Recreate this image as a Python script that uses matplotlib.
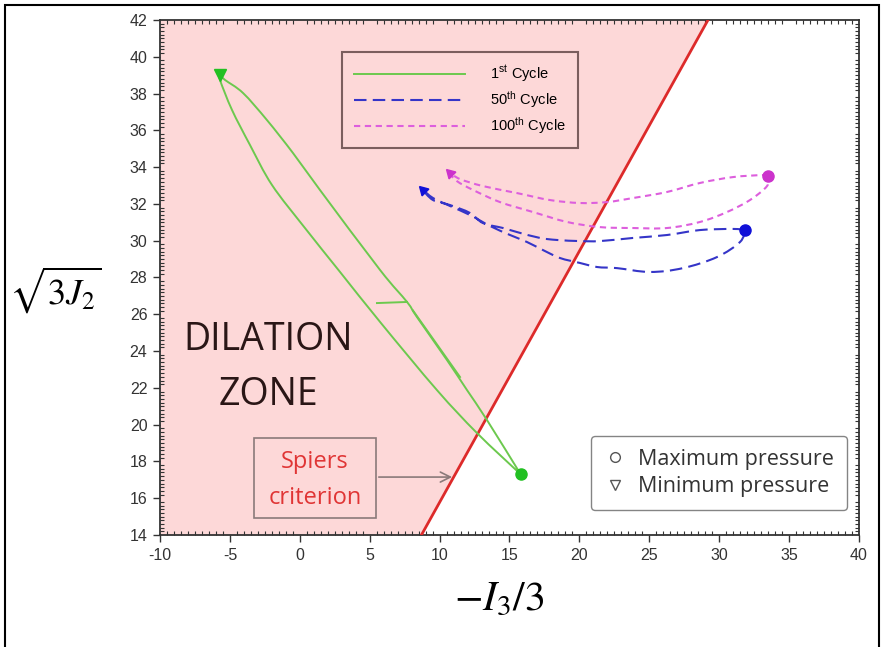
import numpy as np
import matplotlib.pyplot as plt
from matplotlib.patches import Rectangle, PathPatch
from matplotlib.path import Path
from matplotlib.lines import Line2D
from matplotlib.ticker import MultipleLocator

plt.rcParams['mathtext.fontset'] = 'stix'
plt.rcParams['axes.unicode_minus'] = False

# Spiers criterion line
spiers_x = [8.7, 29.2]
spiers_y = [14, 42]

# 1st cycle loop (max pressure -> min pressure -> max pressure)
c1_x = [15.8, 12.68, 9.81, 5.81, 2.88, 0.37, -1.99, -3.56, -4.85, -5.71, -5.7,
        -5.35, -4.06, -2.35, -0.49, 1.44, 5.74, 7.67, 8.38, 10.53, 11.96, 13.39, 15.8]
c1_y = [17.3, 19.54, 21.88, 25.52, 28.30, 30.69, 33.03, 35.20, 37.11, 38.74, 39.0,
        38.74, 38.03, 36.56, 34.77, 32.76, 28.41, 26.67, 25.85, 23.51, 21.88, 20.25, 17.3]
# small spur and doubled stroke on the unloading branch
spur_x = [5.52, 7.67]
spur_y = [26.61, 26.67]
strand_x = [8.1, 11.46]
strand_y = [26.2, 22.59]

# 50th cycle
c50_x = [31.85, 30.99, 28.63, 26.27, 23.83, 21.47, 20.04, 18.40, 17.18, 15.54,
         14.54, 13.10, 12.17, 10.74, 9.53, 8.81,
         9.53, 10.74, 12.17, 13.61, 15.04, 16.25, 17.40, 18.61, 20.04, 21.26,
         22.69, 25.05, 27.41, 29.84, 31.49, 31.85]
c50_y = [30.58, 30.64, 30.58, 30.31, 30.15, 29.98, 29.98, 30.04, 30.15, 30.47,
         30.69, 30.96, 31.51, 31.94, 32.21, 32.76,
         32.32, 31.89, 31.40, 30.80, 30.31, 29.93, 29.49, 29.06, 28.79, 28.57,
         28.51, 28.30, 28.51, 29.11, 29.93, 30.58]

# 100th cycle
c100_x = [33.49, 33.13, 30.99, 28.63, 26.27, 23.83, 21.97, 20.04, 17.90, 15.54,
          13.10, 11.46, 10.74,
          11.24, 12.39, 14.32, 16.68, 19.11, 21.47, 23.83, 26.27, 28.63, 30.56,
          32.20, 33.42, 33.49]
c100_y = [33.52, 33.57, 33.46, 33.14, 32.65, 32.32, 32.10, 32.05, 32.21, 32.59,
          32.97, 33.35, 33.68,
          33.24, 32.76, 32.10, 31.56, 31.02, 30.74, 30.69, 30.69, 31.02, 31.56,
          32.21, 32.97, 33.52]

# max / min pressure points: 1st, 50th, 100th
max_x = [15.8, 31.85, 33.49]
max_y = [17.3, 30.58, 33.52]
min_x = [-5.7, 8.81, 10.74]
min_y = [39.0, 32.76, 33.68]

green, blue, pink = '#6cc94e', '#3535c8', '#dd5fdd'


def smooth_path(xs, ys):
    # smoothed line through the points (cubic Bezier, Catmull-Rom tangents)
    p = np.column_stack([xs, ys]).astype(float)
    verts, codes = [p[0]], [Path.MOVETO]
    n = len(p)
    for i in range(n - 1):
        p0 = p[i - 1] if i > 0 else p[i]
        p3 = p[i + 2] if i + 2 < n else p[i + 1]
        verts += [p[i] + (p[i + 1] - p0) / 6, p[i + 1] - (p3 - p[i]) / 6, p[i + 1]]
        codes += [Path.CURVE4] * 3
    return Path(verts, codes)


fig = plt.figure(figsize=(8.83, 6.47), dpi=100)
ax = fig.add_axes([0.1812, 0.1731, 0.7916, 0.796])

# dilation zone shading
ax.fill_betweenx(spiers_y, -10, spiers_x, color='#fdd8d8', lw=0, zorder=0)
ax.plot(spiers_x, spiers_y, color='#dd2a2a', lw=2, zorder=3)

ax.add_patch(PathPatch(smooth_path(c1_x, c1_y), fill=False, ec=green, lw=1.4, zorder=4))
ax.plot(spur_x, spur_y, color=green, lw=1.4, zorder=4)
ax.plot(strand_x, strand_y, color=green, lw=1.4, zorder=4)
ax.add_patch(PathPatch(smooth_path(c50_x, c50_y), fill=False, ec=blue, lw=1.5,
                       ls=(0, (6, 3)), zorder=4))
ax.add_patch(PathPatch(smooth_path(c100_x, c100_y), fill=False, ec=pink, lw=1.5,
                       ls=(0, (3, 2.2)), zorder=4))

mk_cols = ['#22c022', '#1010d8', '#cc33cc']
mk_min = ['v', (3, 0, 45), (3, 0, 165)]
for i in range(3):
    ax.plot(max_x[i], max_y[i], 'o', ms=8, color=mk_cols[i], mec=mk_cols[i], zorder=5)
    ax.plot(min_x[i], min_y[i], marker=mk_min[i], ms=8, color=mk_cols[i],
            mec=mk_cols[i], ls='none', zorder=5)

ax.set_xlim(-10, 40)
ax.set_ylim(14, 42)
ax.xaxis.set_major_locator(MultipleLocator(5))
ax.xaxis.set_minor_locator(MultipleLocator(0.5))
ax.yaxis.set_major_locator(MultipleLocator(2))
ax.yaxis.set_minor_locator(MultipleLocator(0.2))
ax.tick_params(which='major', direction='out', length=5, width=1, color='#333333',
               labelsize=11.5, labelcolor='#333333', pad=4)
ax.tick_params(which='minor', direction='in', length=3, width=0.8, color='#333333',
               top=True, right=True)
for lab in ax.get_xticklabels() + ax.get_yticklabels():
    lab.set_family('Liberation Sans')
for s in ax.spines.values():
    s.set_color('#333333')
    s.set_linewidth(1.3)

ax.set_xlabel(r'$-I_3\left/3\right.$', fontsize=30)
ax.xaxis.set_label_coords(0.486, -0.083)
ax.set_ylabel(r'$\sqrt{3J_2}$', fontsize=26, rotation=0, va='center')
ax.yaxis.set_label_coords(-0.149, 0.476)

# cycle legend
cyc_handles = [Line2D([], [], color=green, lw=1.4),
               Line2D([], [], color=blue, lw=1.5, dashes=(6, 3)),
               Line2D([], [], color=pink, lw=1.5, dashes=(3, 2.2))]
cyc_labels = [r'1$^{\mathregular{st}}$ Cycle', r'50$^{\mathregular{th}}$ Cycle',
              r'100$^{\mathregular{th}}$ Cycle']
leg1 = ax.legend(cyc_handles, cyc_labels, loc='upper left', bbox_to_anchor=(0.2604, 0.938),
                 borderaxespad=0, handlelength=7.6, handletextpad=1.75, labelspacing=0.35,
                 frameon=True, fancybox=False, borderpad=0.8,
                 prop={'family': 'Liberation Sans', 'size': 10.5})
leg1.get_frame().set_edgecolor('#5a4040')
leg1.get_frame().set_facecolor('none')
leg1.get_frame().set_linewidth(1.5)
ax.add_artist(leg1)

# marker-type legend
mh = [Line2D([], [], marker='o', ls='none', mfc='none', mec='#555555', ms=7),
      Line2D([], [], marker='v', ls='none', mfc='none', mec='#555555', ms=7)]
leg2 = ax.legend(mh, ['Maximum pressure', 'Minimum pressure'], loc='lower right',
                 bbox_to_anchor=(0.983, 0.0485), borderaxespad=0, fancybox=True,
                 handletextpad=0.6, labelspacing=0.3, borderpad=0.6, handlelength=1.0,
                 prop={'family': 'Open Sans', 'size': 15.5})
leg2.get_frame().set_edgecolor('#666666')
leg2.get_frame().set_linewidth(1)
for t in leg2.get_texts():
    t.set_color('#333333')

ax.text(-2.27, 24.6, 'DILATION', fontsize=27, family='Open Sans', color='#2a1616',
        ha='center', va='center')
ax.text(-2.27, 21.6, 'ZONE', fontsize=27, family='Open Sans', color='#2a1616',
        ha='center', va='center')

ax.add_patch(Rectangle((-3.28, 14.92), 8.73, 4.35, fill=False, ec='#8a7a7a', lw=1.2, zorder=6))
ax.text(1.08, 17.95, 'Spiers', fontsize=17, family='Open Sans', color='#e03535',
        ha='center', va='center', zorder=6)
ax.text(1.08, 16.0, 'criterion', fontsize=17, family='Open Sans', color='#e03535',
        ha='center', va='center', zorder=6)
ax.annotate('', xy=(11.1, 17.15), xytext=(5.45, 17.15),
            arrowprops=dict(arrowstyle='->', color='#8a7a7a', lw=1.2,
                            mutation_scale=18), zorder=6)

# outer frame
fig.patches.append(Rectangle((5 / 883, -0.02), 874 / 883, 1.02 - 5 / 647,
                             transform=fig.transFigure, fill=False, ec='black',
                             lw=1.5))

fig.savefig('out.png', dpi=100)
